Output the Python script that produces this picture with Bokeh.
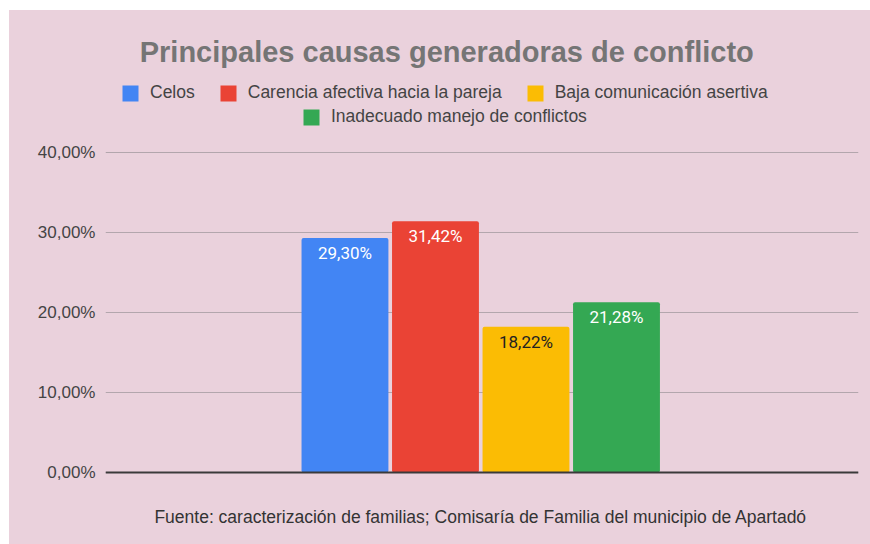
from bokeh.plotting import figure
from bokeh.layouts import column, row
from bokeh.models import (ColumnDataSource, Range1d, FixedTicker, CustomJSTickFormatter,
                          Legend, LegendItem, Span, Label, Spacer)
from bokeh.core.properties import value
from bokeh.embed import file_html
from bokeh.resources import INLINE

# ---- data ----
categories = ["Celos", "Carencia afectiva hacia la pareja",
              "Baja comunicación asertiva", "Inadecuado manejo de conflictos"]
percentages = [29.30, 31.42, 18.22, 21.28]
bar_colors = ["#4285f4", "#ea4335", "#fbbc04", "#34a853"]
label_colors = ["#ffffff", "#ffffff", "#222222", "#ffffff"]
y_ticks = [0, 10, 20, 30, 40]
title_text = "Principales causas generadoras de conflicto"
source_text = "Fuente: caracterización de familias; Comisaría de Familia del municipio de Apartadó"

BG = "#ead1dc"

xs = list(range(len(categories)))
labels = [f"{v:.2f}".replace(".", ",") + "%" for v in percentages]
src = ColumnDataSource(dict(x=xs, y=percentages, cat=categories, color=bar_colors,
                            label=labels, lcolor=label_colors))

# frame covers the whole chart area (8 px per percentage point)
p = figure(width=861, height=534, output_backend="svg", toolbar_location=None,
           x_range=Range1d(-2.646, 5.674), y_range=Range1d(-8.5, 57.25),
           min_border_left=96, min_border_right=12, min_border_top=4, min_border_bottom=4)
p.background_fill_color = None
p.border_fill_color = None
p.outline_line_color = None
p.styles = {"background-color": BG}

bars = p.vbar(x="x", top="y", bottom=0, width=0.96, color="color", source=src,
              line_color=None, border_radius=2)

p.text(x="x", y="y", text="label", text_color="lcolor", source=src,
       text_font=value("Roboto"), text_font_size="17px", text_align="center",
       text_baseline="middle", y_offset=15)

# axes
p.xaxis.visible = False
p.xgrid.grid_line_color = None
p.ygrid.grid_line_color = "#b3a6ad"
p.ygrid.grid_line_width = 1
p.ygrid.ticker = FixedTicker(ticks=y_ticks)
ax = p.yaxis[0]
ax.ticker = FixedTicker(ticks=y_ticks)
ax.formatter = CustomJSTickFormatter(code="return tick.toFixed(2).replace('.', ',') + '%';")
ax.axis_line_color = None
ax.major_tick_line_color = None
ax.minor_tick_line_color = None
ax.major_tick_out = 0
ax.major_tick_in = 0
ax.major_label_standoff = 10
ax.major_label_text_font = "Liberation Sans"
ax.major_label_text_font_size = "17px"
ax.major_label_text_color = "#444444"

p.add_layout(Span(location=0, dimension="width", line_color="#3a3a3a", line_width=2))

# title
p.add_layout(Label(x=sum(xs) / len(xs), x_offset=-34, y=52.6, text=title_text,
                   text_align="center", text_baseline="alphabetic",
                   text_font="Liberation Sans", text_font_style="bold",
                   text_font_size="29px", text_color="#757575"))

# legend (two centred rows)
def make_legend(idx, loc):
    lg = Legend(items=[LegendItem(label=categories[i], renderers=[bars], index=i) for i in idx],
                orientation="horizontal", location=loc)
    lg.glyph_width = 20
    lg.glyph_height = 20
    lg.label_height = 20
    lg.label_standoff = 10
    lg.spacing = 23
    lg.padding = 0
    lg.margin = 0
    lg.label_text_font = "Liberation Sans"
    lg.label_text_font_size = "17.5px"
    lg.label_text_color = "#444444"
    lg.background_fill_alpha = 0
    lg.border_line_alpha = 0
    return lg

p.add_layout(make_legend([0, 1, 2], (15, 437)), "center")
p.add_layout(make_legend([3], (196, 413)), "center")

# source note
p.add_layout(Label(x=sum(xs) / len(xs), y=-5.5, text=source_text, text_align="center",
                   text_baseline="middle", text_font="Liberation Sans",
                   text_font_size="17.5px", text_color="#333333"))

layout = column(Spacer(width=870, height=10), row(Spacer(width=9, height=534), p),
                spacing=0)

open("out.html", "w").write(file_html(layout, INLINE))
